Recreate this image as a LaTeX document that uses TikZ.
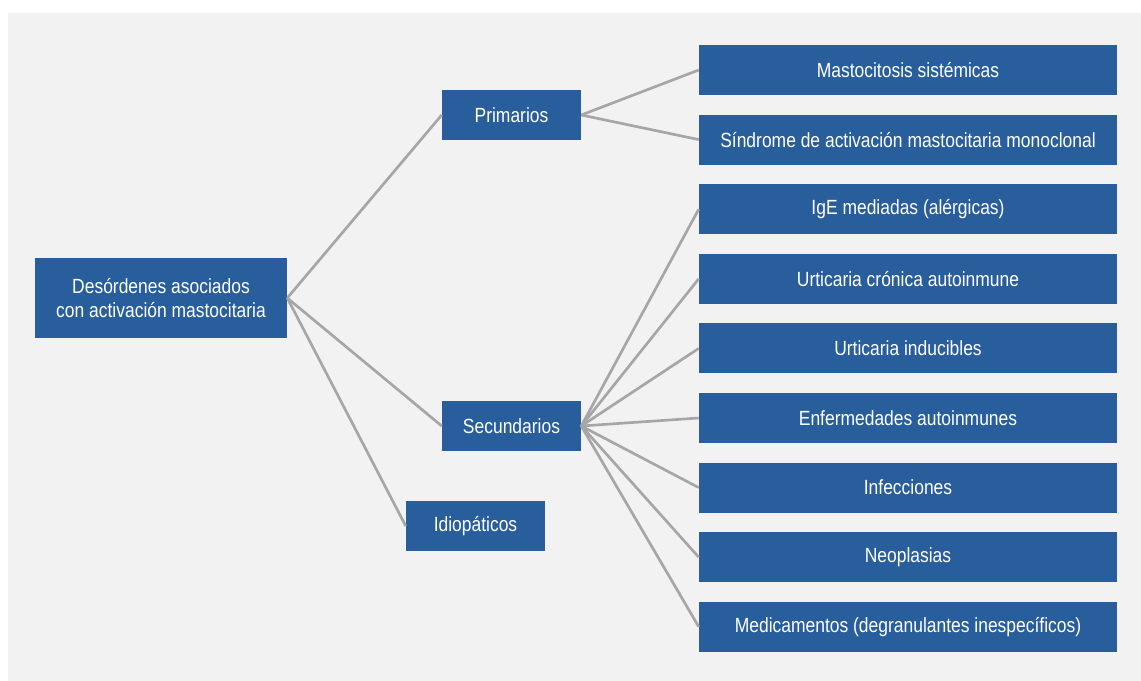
\documentclass[tikz,border=0pt]{standalone}
\usepackage{fontspec}
\setmainfont{Liberation Sans}[FakeStretch=0.85]
\definecolor{boxblue}{HTML}{295E9C}
\definecolor{linegray}{HTML}{A6A6A6}
\definecolor{backgray}{HTML}{F2F2F2}

\begin{document}
\begin{tikzpicture}[
x=0.75pt, y=-0.75pt,
boxnode/.style={rectangle, fill=boxblue, text=white, inner sep=0pt, align=center, minimum width=104.25pt, minimum height=37.5pt, font=\fontsize{15.4}{18}\selectfont},
leafnode/.style={boxnode, minimum width=313.5pt},
link/.style={draw=linegray, line width=2pt},
]
\useasboundingbox (0,0) rectangle (1141,681);
\fill[backgray] (8,13) rectangle (1141,681);

%Nodes
\node[boxnode, minimum width=189pt, minimum height=60pt] (root) at (161,298) {Desórdenes asociados\\con activación mastocitaria};
\node[boxnode] (prim) at (511.5,115) {Primarios};
\node[boxnode] (sec) at (511.5,426) {Secundarios};
\node[boxnode] (idio) at (475.5,526) {Idiopáticos};
\node[leafnode] (masto) at (908,70) {Mastocitosis sistémicas};
\node[leafnode, below of=masto, node distance=52.2pt] (sindrome) {Síndrome de activación mastocitaria monoclonal};
\node[leafnode, below of=sindrome, node distance=52.2pt] (ige) {IgE mediadas (alérgicas)};
\node[leafnode, below of=ige, node distance=52.2pt] (urtcron) {Urticaria crónica autoinmune};
\node[leafnode, below of=urtcron, node distance=52.2pt] (urtind) {Urticaria inducibles};
\node[leafnode, below of=urtind, node distance=52.2pt] (autoinm) {Enfermedades autoinmunes};
\node[leafnode, below of=autoinm, node distance=52.2pt] (infec) {Infecciones};
\node[leafnode, below of=infec, node distance=52.2pt] (neopl) {Neoplasias};
\node[leafnode, below of=neopl, node distance=52.2pt] (medic) {Medicamentos (degranulantes inespecíficos)};

%Lines
\draw[link] (root.east) -- (prim.west);
\draw[link] (root.east) -- (sec.west);
\draw[link] (root.east) -- (idio.west);
\draw[link] (prim.east) -- (masto.west);
\draw[link] (prim.east) -- (sindrome.west);
\foreach \leaf in {ige, urtcron, urtind, autoinm, infec, neopl, medic}
  \draw[link] (sec.east) -- (\leaf.west);

\end{tikzpicture}
\end{document}
